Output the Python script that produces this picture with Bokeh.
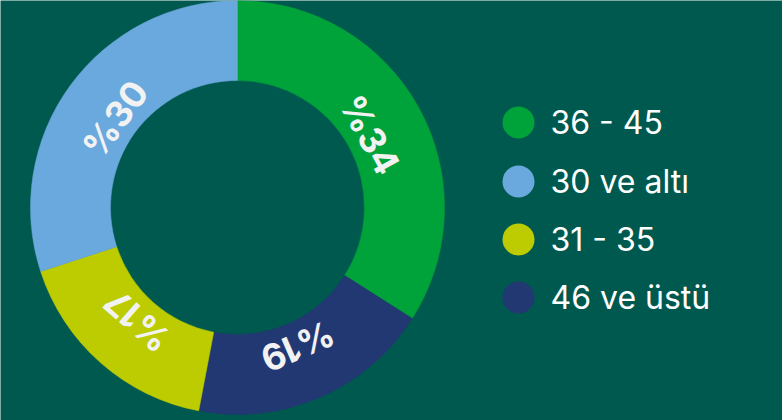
import numpy as np
from bokeh.plotting import figure
from bokeh.models import ColumnDataSource
from bokeh.core.properties import value
from bokeh.embed import file_html
from bokeh.resources import INLINE

# Slices, clockwise from the top
slice_labels = ["36 - 45", "46 ve üstü", "31 - 35", "30 ve altı"]
slice_values = [34, 19, 17, 30]
slice_colors = ["#00a23a", "#213872", "#bccc00", "#6aa9de"]

# Legend order
legend_labels = ["36 - 45", "30 ve altı", "31 - 35", "46 ve üstü"]
legend_colors = ["#00a23a", "#6aa9de", "#bccc00", "#213872"]

BG = "#00594f"
W, H = 782, 420
cx, cy = 237, 213
r_out, r_in = 207, 127

vals = np.array(slice_values, dtype=float)
frac = vals / vals.sum()
cum = np.concatenate([[0], np.cumsum(frac)])
top = np.pi / 2
a_start = top - 2 * np.pi * cum[:-1]   # clockwise start
a_end = top - 2 * np.pi * cum[1:]
mid = (a_start + a_end) / 2

r_lab = 151
src = ColumnDataSource(dict(
    x=[cx] * 4, y=[cy] * 4,
    start=a_end, end=a_start, color=slice_colors,
    lx=cx + r_lab * np.cos(mid), ly=cy + r_lab * np.sin(mid),
    ang=mid - np.pi / 2,
    txt=["%" + str(v) for v in slice_values],
))

p = figure(width=W, height=H, x_range=(0, W), y_range=(0, H),
           output_backend="svg", toolbar_location=None, min_border=0)
p.axis.visible = False
p.grid.visible = False
p.outline_line_color = None
p.background_fill_color = BG
p.border_fill_color = BG

p.annular_wedge(x="x", y="y", inner_radius=r_in, outer_radius=r_out,
                start_angle="start", end_angle="end", direction="anticlock",
                fill_color="color", line_color="color", line_width=0.5, source=src)

p.text(x="lx", y="ly", text="txt", angle="ang", source=src,
       text_color="#f2f2f2", text_font=value("Inter"), text_font_style="bold",
       text_font_size="36px", text_align="center", text_baseline="middle")

ly = [H - 122, H - 181, H - 239, H - 297]
lsrc = ColumnDataSource(dict(x=[518] * 4, y=ly, color=legend_colors,
                             tx=[550] * 4, txt=legend_labels))
p.scatter(x="x", y="y", size=32, fill_color="color", line_color=None, source=lsrc)
p.text(x="tx", y="y", text="txt", source=lsrc, text_color="white",
       text_font=value("Inter"), text_font_size="32px",
       text_align="left", text_baseline="middle")

open("out.html", "w").write(file_html(p, INLINE))
